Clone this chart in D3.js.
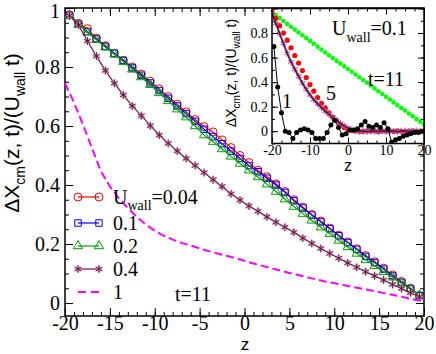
<!DOCTYPE html>
<html><head><meta charset="utf-8">
<script src="https://cdn.jsdelivr.net/npm/d3@7"></script>
<style>body{margin:0;background:#fff}svg{display:block}
.serif{font-family:"Liberation Serif","Times New Roman",Times,serif}
.sans{font-family:"Liberation Sans",Arial,Helvetica,sans-serif}</style>
</head><body>
<script>
// ---------- main chart data ----------
const zMain = [-19.5,-18.5,-17.5,-16.5,-15.5,-14.5,-13.5,-12.5,-11.5,-10.5,-9.5,-8.5,-7.5,-6.5,-5.5,-4.5,-3.5,-2.5,-1.5,-0.5,
  0.5,1.5,2.5,3.5,4.5,5.5,6.5,7.5,8.5,9.5,10.5,11.5,12.5,13.5,14.5,15.5,16.5,17.5,18.5,19.5];
const u004 = [0.977,0.948,0.930,0.898,0.872,0.846,0.823,0.800,0.776,0.752,0.726,0.700,0.674,0.648,0.622,0.598,0.580,0.553,0.527,0.500,
  0.476,0.450,0.428,0.404,0.378,0.350,0.325,0.300,0.278,0.254,0.230,0.207,0.184,0.161,0.140,0.118,0.095,0.073,0.050,0.026];
const u010 = [0.975,0.945,0.920,0.895,0.870,0.847,0.822,0.797,0.772,0.746,0.720,0.694,0.668,0.642,0.616,0.589,0.564,0.540,0.515,0.490,
  0.466,0.445,0.423,0.400,0.375,0.347,0.322,0.298,0.275,0.252,0.228,0.205,0.182,0.158,0.137,0.115,0.092,0.070,0.048,0.025];
const u020 = [0.975,0.944,0.918,0.892,0.867,0.843,0.818,0.792,0.766,0.740,0.712,0.685,0.657,0.630,0.600,0.569,0.547,0.522,0.497,0.473,
  0.450,0.427,0.403,0.378,0.352,0.327,0.303,0.280,0.257,0.235,0.212,0.190,0.168,0.147,0.126,0.106,0.087,0.067,0.047,0.026];
const u040 = [0.974,0.942,0.888,0.837,0.788,0.745,0.705,0.668,0.635,0.601,0.569,0.541,0.515,0.490,0.466,0.442,0.418,0.395,0.370,0.349,
  0.329,0.311,0.292,0.274,0.257,0.240,0.220,0.202,0.185,0.168,0.152,0.136,0.121,0.106,0.092,0.078,0.063,0.049,0.035,0.021];
const zInt = [-20,-19,-18,-17,-16,-15,-14,-13,-12,-11,-10,-9,-8,-7,-6,-5,-4,-3,-2,-1,0,
  1,2,3,4,5,6,7,8,9,10,11,12,13,14,15,16,17,18,19,20];
const u100 = [0.745,0.680,0.605,0.525,0.447,0.395,0.355,0.322,0.292,0.266,0.245,0.228,0.215,0.204,0.195,0.185,0.176,0.168,0.160,0.152,
  0.143,0.134,0.126,0.118,0.110,0.102,0.095,0.087,0.080,0.073,0.067,0.061,0.055,0.049,0.043,0.037,0.031,0.025,0.018,0.011,0.006];
const legendLabels = ["0.04","0.1","0.2","0.4","1"];
const mainXTicks = [-20,-15,-10,-5,0,5,10,15,20];
const mainYTicks = [0,0.2,0.4,0.6,0.8,1];

// ---------- inset data ----------
const inT11 = [0.970,0.946,0.922,0.898,0.874,0.851,0.828,0.805,0.782,0.759,0.736,0.712,0.689,0.665,0.642,0.619,0.596,0.573,0.551,0.529,
  0.507,0.485,0.462,0.440,0.417,0.395,0.372,0.349,0.326,0.303,0.281,0.258,0.235,0.213,0.190,0.168,0.145,0.123,0.100,0.078,0.055];
const inT5a = [0.970,0.920,0.860,0.800,0.742,0.680,0.617,0.555,0.495,0.437,0.380,0.327,0.275,0.228,0.190,0.150,0.115,0.085,0.055,0.030,
  0.012,0.004,0.002,0.000,-0.003,0.004,0.000,0.003,-0.004,0.002,0.000,0.004,-0.002,0.003,0.000,-0.003,0.002,0.004,-0.002,0.000,0.002];
const inT5b = [0.960,0.880,0.795,0.715,0.635,0.565,0.505,0.448,0.392,0.342,0.297,0.257,0.222,0.192,0.163,0.137,0.112,0.088,0.065,0.045,
  0.027,0.012,0.004,-0.002,0.003,-0.004,0.002,0.000,-0.003,0.004,-0.002,0.003,0.000,-0.004,0.002,0.003,-0.002,0.000,0.004,-0.003,0.000];
const inT1 = [0.69,0.36,0.15,0.00,-0.01,-0.06,-0.01,0.01,0.02,0.01,-0.01,-0.06,-0.06,-0.06,-0.01,0.05,0.09,0.03,-0.03,-0.02,
  0.01,0.01,0.02,0.05,0.08,0.04,0.03,0.05,0.03,0.07,0.02,-0.09,-0.07,-0.06,-0.04,-0.03,-0.02,-0.01,-0.01,0.00];
const inXTicks = [-20,-10,0,10,20];
const inYTicks = [0,0.2,0.4,0.6,0.8];

const W = 436, H = 354;
const svg = d3.select("body").append("svg").attr("width", W).attr("height", H);

// ---------- main ----------
const x = d3.scaleLinear().domain([-20, 20]).range([65, 424]);
const y = d3.scaleLinear().domain([-0.044, 1]).range([316, 8]);

function ticksGroup(g, scale, orient, values, size, labels, fmt, fs, pad) {
  const ax = (orient === "bottom" ? d3.axisBottom : orient === "top" ? d3.axisTop : orient === "left" ? d3.axisLeft : d3.axisRight)(scale)
    .tickValues(values).tickSize(-size).tickPadding(labels ? pad : 0)
    .tickFormat(labels ? fmt : () => "");
  g.call(ax);
  g.attr("font-family", null).attr("font-size", null);
  g.select(".domain").remove();
  g.selectAll(".tick line").attr("stroke", "#000").attr("stroke-width", 1);
  g.selectAll(".tick text").attr("class", "serif").style("font-size", fs + "px").attr("fill", "#000");
}
const fmtY = d => d === 0 ? "0" : d === 1 ? "1" : d3.format(".1f")(d);
const minorX = d3.range(-20, 20.01, 1);
const minorY = d3.range(0, 1.001, 0.05);

const gm = svg.append("g");
ticksGroup(gm.append("g").attr("transform", "translate(0,316)"), x, "bottom", minorX, 4, false);
ticksGroup(gm.append("g").attr("transform", "translate(0,316)"), x, "bottom", mainXTicks, 8, true, d => String(d), 20, 0);
ticksGroup(gm.append("g").attr("transform", "translate(0,8)"), x, "top", minorX, 4, false);
ticksGroup(gm.append("g").attr("transform", "translate(0,8)"), x, "top", mainXTicks, 8, false);
ticksGroup(gm.append("g").attr("transform", "translate(65,0)"), y, "left", minorY, 4, false);
ticksGroup(gm.append("g").attr("transform", "translate(65,0)"), y, "left", mainYTicks, 8, true, fmtY, 20, 5);
ticksGroup(gm.append("g").attr("transform", "translate(424,0)"), y, "right", minorY, 4, false);
ticksGroup(gm.append("g").attr("transform", "translate(424,0)"), y, "right", mainYTicks, 8, false);
gm.selectAll(".tick text").filter(d => d === 1).attr("dy", "0.45em");

gm.append("rect").attr("x", 65).attr("y", 8).attr("width", 359).attr("height", 308)
  .attr("fill", "none").attr("stroke", "#000").attr("stroke-width", 1.5);

const line = d3.line().x(d => x(d[0])).y(d => y(d[1]));
const asterisk = {
  draw(ctx, size) {
    const r = Math.sqrt(size) / 2;
    for (let k = 0; k < 3; k++) {
      const a = Math.PI / 2 + k * Math.PI / 3;
      ctx.moveTo(r * Math.cos(a), r * Math.sin(a));
      ctx.lineTo(-r * Math.cos(a), -r * Math.sin(a));
    }
  }
};
const seriesMain = [
  { vals: u004, color: "#ff0000", sym: d3.symbolCircle, size: 50 },
  { vals: u010, color: "#0000ff", sym: d3.symbolSquare, size: 42 },
  { vals: u020, color: "#00a000", sym: d3.symbolTriangle, size: 38 },
  { vals: u040, color: "#6b1444", sym: asterisk, size: 64 }
];
seriesMain.forEach(s => {
  const pts = zMain.map((z, i) => [z, s.vals[i]]);
  gm.append("path").attr("d", line(pts)).attr("fill", "none").attr("stroke", s.color).attr("stroke-width", 1.2);
  if (s.sym === asterisk) {
    gm.append("g").selectAll("circle").data(pts).join("circle")
      .attr("cx", d => x(d[0])).attr("cy", d => y(d[1])).attr("r", 3.2)
      .attr("fill", "#c890b8").attr("opacity", 0.7);
  }
  gm.append("g").selectAll("path").data(pts).join("path")
    .attr("transform", d => `translate(${x(d[0])},${y(d[1])})`)
    .attr("d", d3.symbol(s.sym, s.size)())
    .attr("fill", "none").attr("stroke", s.color).attr("stroke-width", 1);
});
gm.append("path").attr("d", line(zInt.map((z, i) => [z, u100[i]])))
  .attr("fill", "none").attr("stroke", "#ff00ff").attr("stroke-width", 2).attr("stroke-dasharray", "8,4");

// legend
const legY = [197, 223, 246, 269, 292];
seriesMain.forEach((s, i) => {
  const g = gm.append("g");
  g.append("line").attr("x1", 78).attr("x2", 99).attr("y1", legY[i]).attr("y2", legY[i]).attr("stroke", s.color).attr("stroke-width", 1.2);
  [78, 99].forEach(px => {
    if (s.sym === asterisk) g.append("circle").attr("cx", px).attr("cy", legY[i]).attr("r", 3.2).attr("fill", "#c890b8").attr("opacity", 0.7);
    g.append("path").attr("transform", `translate(${px},${legY[i]})`).attr("d", d3.symbol(s.sym, s.size)())
      .attr("fill", "none").attr("stroke", s.color).attr("stroke-width", 1);
  });
});
gm.append("line").attr("x1", 78).attr("x2", 100).attr("y1", legY[4]).attr("y2", legY[4])
  .attr("stroke", "#ff00ff").attr("stroke-width", 2).attr("stroke-dasharray", "8,5");
legendLabels.forEach((lab, i) => {
  const t = gm.append("text").attr("x", 113).attr("y", legY[i] + 7).attr("class", "serif").style("font-size", "20px");
  if (i === 0) {
    t.append("tspan").text("U");
    t.append("tspan").attr("dy", 6).style("font-size", "14px").text("wall");
    t.append("tspan").attr("dy", -6).text("=" + lab);
  } else t.text(lab);
});
gm.append("text").attr("x", 175).attr("y", 301).attr("class", "serif").style("font-size", "20px").text("t=11");
gm.append("text").attr("x", 245).attr("y", 350).attr("text-anchor", "middle").attr("class", "sans").style("font-size", "17px").text("z");

// y title
const yt = gm.append("text").attr("transform", "translate(19,133) rotate(-90)").attr("text-anchor", "middle")
  .attr("class", "sans").style("font-size", "21px");
yt.append("tspan").text("ΔX");
yt.append("tspan").attr("dy", 6).style("font-size", "14px").text("cm");
yt.append("tspan").attr("dy", -6).text("(z, t)/(U");
yt.append("tspan").attr("dy", 6).style("font-size", "14px").text("wall");
yt.append("tspan").attr("dy", -6).text(" t)");

// ---------- inset ----------
const xi = d3.scaleLinear().domain([-20, 20]).range([272, 424]);
const yi = d3.scaleLinear().domain([-0.1, 1]).range([143.5, 8.5]);
const gi = svg.append("g");
gi.append("rect").attr("x", 272).attr("y", 8.5).attr("width", 152).attr("height", 135).attr("fill", "#fff");
gi.append("clipPath").attr("id", "clipIn").append("rect").attr("x", 272).attr("y", 8.5).attr("width", 152).attr("height", 135);
const minorXi = d3.range(-20, 20.01, 2.5);
const minorYi = d3.range(-0.1, 1.001, 0.1);
const fmtYi = d => d === 0 ? "0" : d3.format(".1f")(d);
ticksGroup(gi.append("g").attr("transform", "translate(0,143.5)"), xi, "bottom", minorXi, 3, false);
ticksGroup(gi.append("g").attr("transform", "translate(0,143.5)"), xi, "bottom", inXTicks, 6, true, d => String(d), 14, 2);
ticksGroup(gi.append("g").attr("transform", "translate(0,8.5)"), xi, "top", minorXi, 3, false);
ticksGroup(gi.append("g").attr("transform", "translate(0,8.5)"), xi, "top", inXTicks, 6, false);
ticksGroup(gi.append("g").attr("transform", "translate(272,0)"), yi, "left", minorYi, 3, false);
ticksGroup(gi.append("g").attr("transform", "translate(272,0)"), yi, "left", inYTicks.concat([1]), 6, true, fmtYi, 14, 4);
ticksGroup(gi.append("g").attr("transform", "translate(424,0)"), yi, "right", minorYi, 3, false);
ticksGroup(gi.append("g").attr("transform", "translate(424,0)"), yi, "right", inYTicks.concat([1]), 6, false);
gi.selectAll(".tick text").filter(d => d === 1).remove();

const li = d3.line().x(d => xi(d[0])).y(d => yi(d[1]));
const data = gi.append("g").attr("clip-path", "url(#clipIn)");
const pG = zInt.map((z, i) => [z, inT11[i]]);
data.append("g").selectAll("circle").data(pG).join("circle").attr("cx", d => xi(d[0])).attr("cy", d => yi(d[1])).attr("r", 2.3).attr("fill", "#00ff00");
const pR = zInt.map((z, i) => [z, inT5a[i]]);
data.append("g").selectAll("circle").data(pR).join("circle").attr("cx", d => xi(d[0])).attr("cy", d => yi(d[1])).attr("r", 2.6).attr("fill", "#ff0000");
const pP = zInt.map((z, i) => [z, inT5b[i]]);
data.append("g").selectAll("path").data(pP).join("path")
  .attr("transform", d => `translate(${xi(d[0])},${yi(d[1])})`).attr("d", d3.symbol(asterisk, 42)())
  .attr("fill", "none").attr("stroke", "#b060b0").attr("stroke-width", 1.2);
data.append("path").attr("d", li(pP)).attr("fill", "none").attr("stroke", "#6b1444").attr("stroke-width", 1.8);
const pB = zMain.map((z, i) => [z, inT1[i]]);
data.append("path").attr("d", li(pB)).attr("fill", "none").attr("stroke", "#000").attr("stroke-width", 1);
data.append("g").selectAll("circle").data(pB).join("circle").attr("cx", d => xi(d[0])).attr("cy", d => yi(d[1])).attr("r", 2.5).attr("fill", "#000");

gi.append("rect").attr("x", 272).attr("y", 8.5).attr("width", 152).attr("height", 135)
  .attr("fill", "none").attr("stroke", "#000").attr("stroke-width", 1.5);

const ut = gi.append("text").attr("x", 332).attr("y", 35).attr("class", "serif").style("font-size", "20px");
ut.append("tspan").text("U");
ut.append("tspan").attr("dy", 7).style("font-size", "14px").text("wall");
ut.append("tspan").attr("dy", -7).text("=0.1");
gi.append("text").attr("x", 368).attr("y", 86).attr("class", "serif").style("font-size", "20px").text("t=11");
gi.append("text").attr("x", 326).attr("y", 100).attr("class", "serif").style("font-size", "20px").text("5");
gi.append("text").attr("x", 282).attr("y", 108).attr("class", "serif").style("font-size", "20px").text("1");
gi.append("text").attr("x", 348).attr("y", 171).attr("text-anchor", "middle").attr("class", "sans").style("font-size", "16px").text("z");
const yti = gi.append("text").attr("transform", "translate(236,73) rotate(-90)").attr("text-anchor", "middle")
  .attr("class", "sans").style("font-size", "14px");
yti.append("tspan").text("ΔX");
yti.append("tspan").attr("dy", 4).style("font-size", "10px").text("cm");
yti.append("tspan").attr("dy", -4).text("(z, t)/(U");
yti.append("tspan").attr("dy", 4).style("font-size", "10px").text("wall");
yti.append("tspan").attr("dy", -4).text(" t)");
</script>
</body></html>
